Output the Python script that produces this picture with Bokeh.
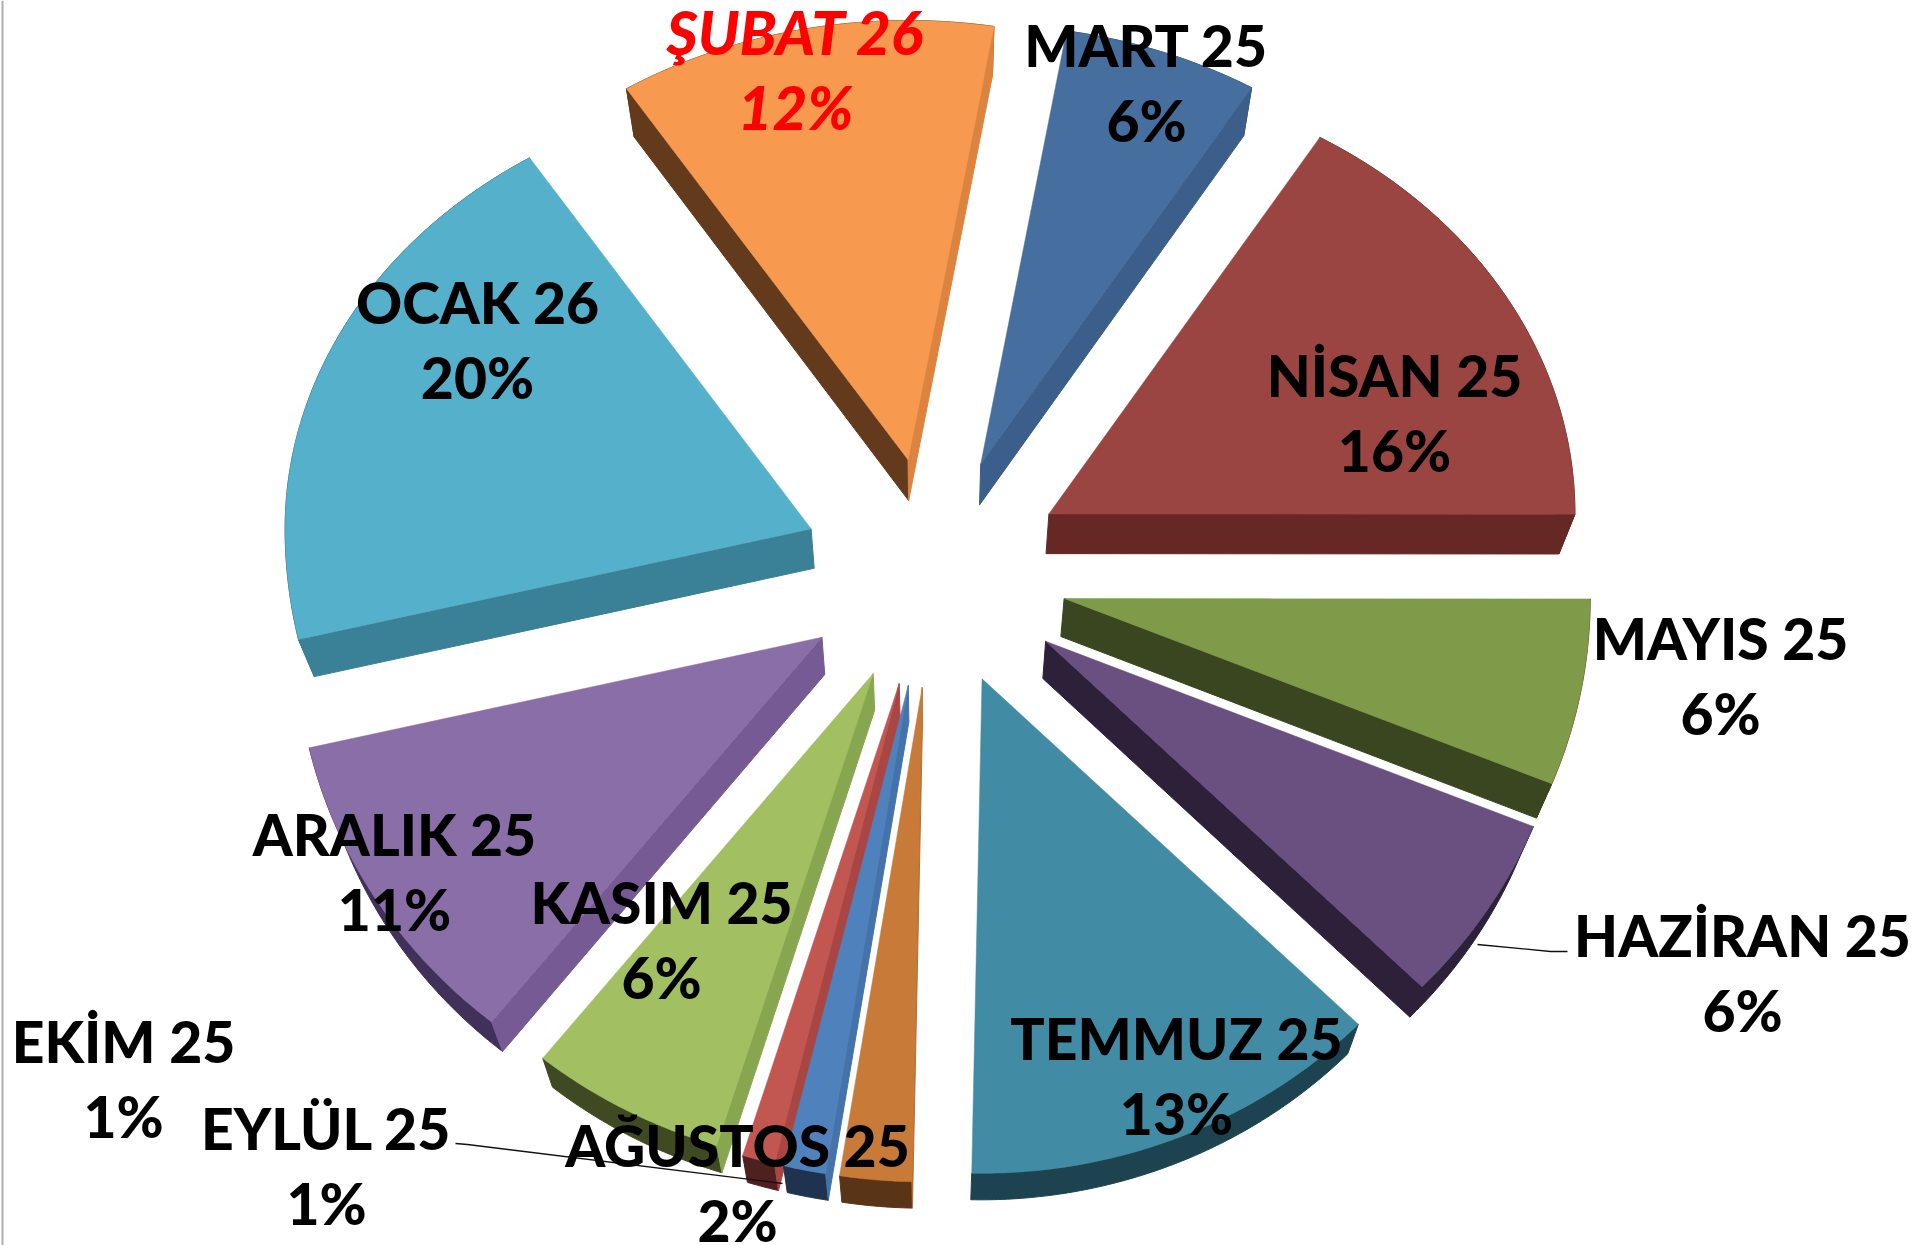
import numpy as np
from bokeh.plotting import figure
from bokeh.models import Range1d
from bokeh.core.properties import value
from bokeh.embed import file_html
from bokeh.resources import INLINE

# ---- data (clockwise from the first slice) ----
months = ["MART 25", "NİSAN 25", "MAYIS 25", "HAZİRAN 25", "TEMMUZ 25", "AĞUSTOS 25",
          "EYLÜL 25", "EKİM 25", "KASIM 25", "ARALIK 25", "OCAK 26", "ŞUBAT 26"]
shares = [6.0, 16.4, 6.1, 6.2, 13.0, 2.2, 1.3, 1.0, 6.0, 10.6, 19.6, 11.6]

# ---- styling ----
top_col = ["#466e9f", "#9b4542", "#7f9a49", "#6a5080", "#418ba5", "#c87a39",
           "#4f81bd", "#c25651", "#a2bf62", "#8a6ea8", "#55b0cb", "#f79a50"]
mid_col = ["#3b5f8a", "#833835", "#6e8a3e", "#5a446e", "#367a90", "#b86e33",
           "#4472a9", "#a94643", "#88a64f", "#755a93", "#3a8096", "#dd8340"]
dark_col = ["#2c4a6e", "#652825", "#3a4620", "#2c2138", "#1c434f", "#5a3417",
            "#1f3350", "#4e2020", "#404a22", "#40305a", "#2a5f70", "#633a1c"]
nudge_x = [3, 4, 5, 5, 0, 0, 0, 0, 0, -3, -4, 0]
nudge_y = [-3, -1, 8, 8, 0, 0, 0, 0, 0, 6, 2, -3]
label_x = [1146, 1394, 1720, 1742, 1176, 737, 326, 123, 661, 394, 477, 795]
label_y = [44, 374, 637, 934, 1037, 1144, 1127, 1040, 901, 833, 301, 31]
LINE_GAP = 75
FONT_PX = 57
FONT_PX_RED = 60

CX, CY, RADIUS, EXPLODE = 933.0, 567.0, 526.0, 128.0
KY_BACK, KY_FRONT = 0.835, 0.94
START_DEG = 9.4
BOTTOM_SCALE = 0.975


def project(radius, deg):
    a = np.radians(deg)
    c = np.cos(a)
    ky = np.where(c > 0, KY_BACK, KY_FRONT)
    return radius * np.sin(a), -radius * c * ky


def depth(y):
    return 49.0 - 0.02 * (y - 50.0)


def low_x(x):
    return CX + (x - CX) * BOTTOM_SCALE


W, H = 1917, 1245
p = figure(width=W, height=H, x_range=Range1d(0, W), y_range=Range1d(H, 0),
           output_backend="svg", toolbar_location=None, min_border=0)
p.axis.visible = False
p.grid.visible = False
p.outline_line_color = None
p.background_fill_color = "white"
p.border_fill_color = "white"

# grey frame edge at the left
p.line([2, 2], [0, H], line_color="#b0b0b0", line_width=2)

edges = START_DEG + np.concatenate([[0], np.cumsum(shares)]) * 3.6
slices = []
for i in range(len(shares)):
    a0, a1 = edges[i], edges[i + 1]
    mid = (a0 + a1) / 2
    ox, oy = project(EXPLODE, mid)
    tx, ty = CX + ox + nudge_x[i], CY + oy + nudge_y[i]
    arc = np.linspace(a0, a1, max(8, int(a1 - a0) * 2))
    ax, ay = project(RADIUS, arc)
    slices.append((i, tx, ty, tx + ax, ty + ay))

# paint from the back of the pie to the front
slices.sort(key=lambda s: s[2])

for i, tx, ty, ax, ay in slices:
    # arc rim
    bx = np.concatenate([ax, low_x(ax)[::-1]])
    by = np.concatenate([ay, (ay + depth(ay))[::-1]])
    p.patch(bx, by, fill_color=dark_col[i], line_color=dark_col[i], line_width=1)
    # radial walls: only those that face the viewer
    for (x0, y0, x1, y1) in [(tx, ty, ax[0], ay[0]), (ax[-1], ay[-1], tx, ty)]:
        if x1 >= x0:
            continue
        c = mid_col[i] if y1 > y0 else dark_col[i]
        p.patch([x0, x1, low_x(x1), low_x(x0)], [y0, y1, y1 + depth(y1), y0 + depth(y0)],
                fill_color=c, line_color=c, line_width=1)
    # top
    p.patch(np.concatenate([[tx], ax]), np.concatenate([[ty], ay]),
            fill_color=top_col[i], line_color=top_col[i], line_width=0.5)

# leader lines
p.line([1477, 1550, 1567], [944, 951, 951], line_color="#111111", line_width=1.3)
p.line([455, 467, 782], [1143, 1144, 1183], line_color="#111111", line_width=1.3)

# labels
for i, name in enumerate(months):
    red = name.startswith("Ş")
    col = "#ff0000" if red else "#000000"
    style = "bold italic" if red else "bold"
    size = FONT_PX_RED if red else FONT_PX
    for txt, yy in [(name, label_y[i]), (f"{round(shares[i])}%", label_y[i] + LINE_GAP)]:
        p.text([label_x[i]], [yy], text=[txt], text_font=value("Lato Heavy"),
               text_font_size=f"{size}px", text_font_style=style,
               text_align="center", text_baseline="middle", text_color=col)

open("out.html", "w").write(file_html(p, INLINE))
